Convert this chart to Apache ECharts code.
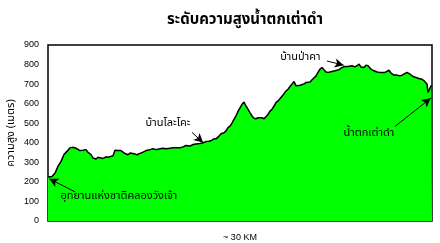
<!DOCTYPE html>
<html><head><meta charset="utf-8">
<script src="https://cdn.jsdelivr.net/npm/echarts@6/dist/echarts.min.js"></script>
<style>html,body{margin:0;padding:0;background:#fff}#c{width:440px;height:243px}</style>
</head><body><div id="c"></div>
<script>
const titleText = 'ระดับความสูงน้ำตกเต่าดำ';
const yAxisName = 'ความสูง (เมตร)';
const xAxisName = '~ 30 KM';
const yTicks = [0, 100, 200, 300, 400, 500, 600, 700, 800, 900];
const distanceKm = [0,0.31,0.55,0.78,1.02,1.25,1.48,1.72,1.95,2.19,2.34,2.5,2.73,2.97,3.13,3.36,3.52,3.75,3.91,4.06,4.3,4.53,4.69,4.84,5.08,5.23,5.47,5.7,5.94,6.09,6.25,6.41,6.56,6.72,6.95,7.19,7.42,7.66,7.97,8.2,8.44,8.75,8.98,9.22,9.53,9.77,10,10.31,10.55,10.78,11.09,11.33,11.56,11.88,12.11,12.34,12.58,12.81,12.97,13.13,13.36,13.52,13.75,13.91,14.06,14.22,14.38,14.53,14.69,14.84,15,15.16,15.31,15.47,15.63,15.78,15.94,16.09,16.25,16.41,16.56,16.72,16.88,17.03,17.19,17.34,17.5,17.66,17.81,17.97,18.13,18.28,18.44,18.59,18.75,18.91,19.06,19.22,19.38,19.53,19.69,19.84,20,20.16,20.31,20.47,20.63,20.78,20.94,21.09,21.25,21.41,21.56,21.72,21.88,22.03,22.19,22.42,22.73,22.97,23.2,23.44,23.59,23.75,23.98,24.14,24.3,24.45,24.69,24.84,25,25.23,25.47,25.7,25.94,26.09,26.33,26.48,26.64,26.8,27.03,27.27,27.5,27.66,27.81,28.05,28.28,28.52,28.75,28.98,29.22,29.38,29.53,29.61,29.69,29.77,29.92,30];
const elevationM = [225,228,245,280,305,340,356,374,377,372,374,360,362,365,351,340,322,317,326,317,320,328,326,331,334,362,360,360,348,338,339,348,339,344,339,346,352,360,365,369,365,369,372,369,372,374,374,375,379,386,383,391,394,396,400,406,408,413,420,420,434,446,451,461,477,485,502,520,538,560,578,597,608,588,571,554,537,525,523,528,537,528,523,528,545,562,571,588,605,614,626,636,651,665,674,688,694,713,691,684,694,701,701,708,708,711,722,730,742,760,777,785,774,762,760,762,765,768,774,785,790,790,794,794,788,794,802,788,785,797,794,777,768,762,760,765,760,768,771,756,746,746,742,746,756,760,751,739,734,729,725,717,708,700,657,648,691,690,688];
const annotations = [
  {name:'อุทยานแห่งชาติคลองวังเจ้า', text:[0.94,123], from:[2.11,149], to:[0.1,216]},
  {name:'บ้านโละโคะ', text:[7.58,499], from:[11.25,453], to:[12.11,401]},
  {name:'บ้านป่าคา', text:[18.1,833], from:[21.8,818], to:[23.1,797]},
  {name:'น้ำตกเต่าดำ', text:[23.05,447], from:[27.1,483], to:[29.9,628]}
];
const FONT = '"Noto Sans Thai","Tahoma","Loma","Garuda","Noto Sans",sans-serif';
const chart = echarts.init(document.getElementById('c'));
chart.setOption({
  animation:false,
  backgroundColor:'#fff',
  title:{text:titleText,left:162,top:8,textStyle:{fontFamily:FONT,fontSize:15,fontWeight:'bold',color:'#000'}},
  grid:{left:48,top:45,right:8,bottom:22,outerBoundsMode:'none',containLabel:false,show:true,borderColor:'#000',borderWidth:1.5,backgroundColor:'transparent'},
  xAxis:{type:'value',min:0,max:30,axisLine:{show:false},axisTick:{show:false},axisLabel:{show:false},splitLine:{show:false},
    name:xAxisName,nameLocation:'middle',nameGap:12,nameTextStyle:{fontFamily:'"Liberation Sans",Arial,sans-serif',fontSize:9,color:'#000'}},
  yAxis:{type:'value',min:0,max:900,interval:100,axisLine:{show:false},axisTick:{show:false},splitLine:{show:false},
    axisLabel:{margin:9,fontFamily:'"Liberation Sans",Arial,sans-serif',fontSize:9,color:'#000',formatter:v=>yTicks.includes(v)?String(v):''},
    name:yAxisName,nameLocation:'middle',nameGap:31,nameMoveOverlap:false,nameRotate:90,nameTextStyle:{fontFamily:FONT,fontSize:11,color:'#000'}},
  series:[{
    type:'line',
    data:distanceKm.map((d,i)=>[d,elevationM[i]]),
    symbol:'none',
    lineStyle:{color:'#000',width:1.5},
    areaStyle:{color:'#00FF00',opacity:1},
    z:2,
    markLine:{silent:true,symbol:['none','arrow'],symbolSize:[7,9],
      lineStyle:{color:'#000',width:1,type:'solid'},label:{show:false},
      data:annotations.map(a=>[{coord:a.from},{coord:a.to}])},
    markPoint:{silent:true,symbol:'circle',symbolSize:1,itemStyle:{color:'transparent'},
      label:{show:true,position:'right',distance:0,fontFamily:FONT,fontSize:11,color:'#000',formatter:p=>p.name},
      data:annotations.map(a=>({name:a.name,coord:a.text}))}
  }]
});
</script></body></html>
